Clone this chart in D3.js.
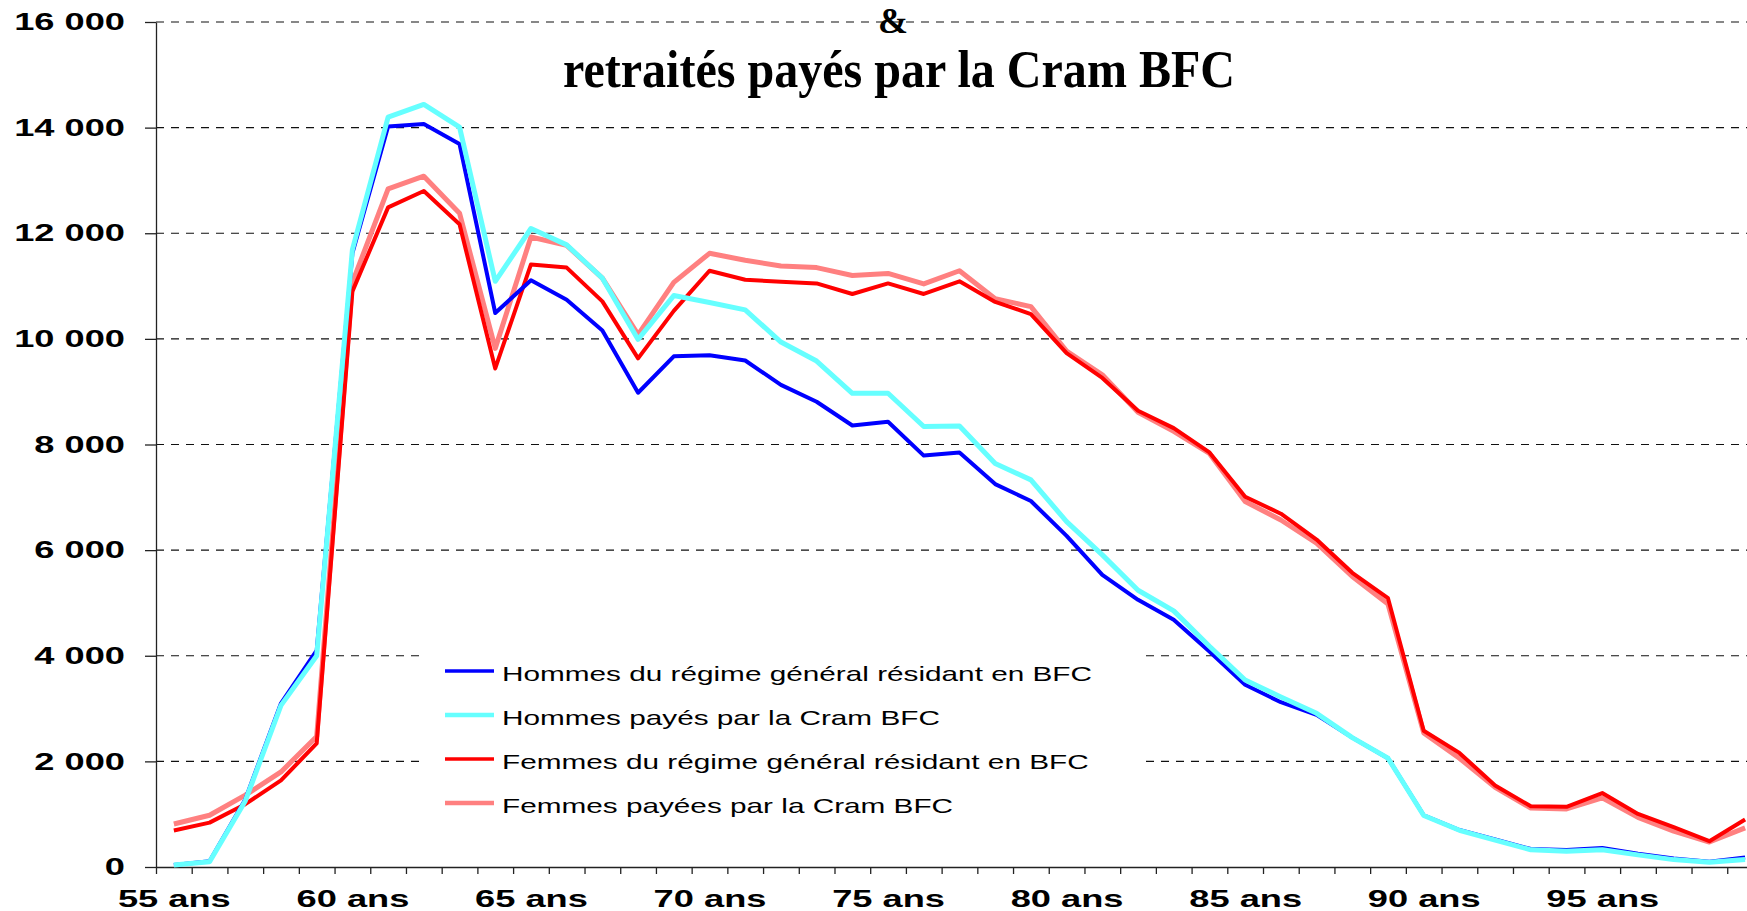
<!DOCTYPE html>
<html>
<head>
<meta charset="utf-8">
<script src="https://cdn.jsdelivr.net/npm/d3@7"></script>
<style>
  body { margin: 0; background: #fff; overflow: hidden; }
  svg { display: block; }
</style>
</head>
<body>
<div id="grafica"></div>
<script>
// 1. Datos: edades (categorias) y las cuatro series
ages = [55, 56, 57, 58, 59, 60, 61, 62, 63, 64,
        65, 66, 67, 68, 69, 70, 71, 72, 73, 74,
        75, 76, 77, 78, 79, 80, 81, 82, 83, 84,
        85, 86, 87, 88, 89, 90, 91, 92, 93, 94,
        95, 96, 97, 98, 99]

hommesRegime = [40, 110, 1280, 3100, 4100, 11620, 14020, 14070, 13690, 10490,
                11110, 10740, 10160, 8980, 9670, 9690, 9590, 9130, 8810, 8360,
                8430, 7790, 7850, 7250, 6930, 6270, 5530, 5060, 4680, 4080,
                3450, 3120, 2880, 2450, 2060, 980, 700, 520, 340, 320,
                360, 250, 160, 100, 180]

hommesCram = [40, 100, 1250, 3060, 4000, 11690, 14200, 14440, 14010, 11090,
              12090, 11780, 11150, 9990, 10820, 10690, 10550, 9940, 9580, 8970,
              8970, 8340, 8350, 7640, 7330, 6540, 5910, 5240, 4850, 4180,
              3540, 3220, 2910, 2450, 2060, 975, 695, 510, 325, 300,
              325, 230, 140, 90, 140]

femmesRegime = [690, 840, 1190, 1640, 2340, 10900, 12490, 12800, 12170, 9440,
                11410, 11350, 10710, 9630, 10530, 11290, 11120, 11080, 11050, 10850,
                11050, 10850, 11090, 10700, 10470, 9730, 9260, 8640, 8310, 7850,
                7010, 6690, 6200, 5570, 5090, 2580, 2160, 1545, 1150, 1140,
                1400, 1005, 755, 488, 900]

femmesCram = [815, 980, 1360, 1800, 2470, 11070, 12840, 13080, 12380, 9820,
              11930, 11770, 11150, 10080, 11070, 11620, 11490, 11380, 11350, 11200,
              11240, 11040, 11290, 10760, 10610, 9770, 9320, 8610, 8250, 7830,
              6920, 6570, 6130, 5500, 4980, 2540, 2060, 1510, 1115, 1100,
              1310, 940, 680, 473, 740]

noms = ['Hommes du régime général résidant en BFC',
        'Hommes payés par la Cram BFC',
        'Femmes du régime général résidant en BFC',
        'Femmes payées par la Cram BFC']

yTicks = [0, 2000, 4000, 6000, 8000, 10000, 12000, 14000, 16000]
xLabels = [55, 60, 65, 70, 75, 80, 85, 90, 95]

couleurs = ['#0000ff', '#66ffff', '#ff0000', '#ff8080']
epaisseurs = [4, 5, 4, 5]

ancho_total = 1747
alto_total = 911
margin = { left: 156, top: 22 }
paso = 35.71                 // ancho de cada categoria
fondo = 867                  // linea del cero

svg = d3.select('#grafica')
        .append('svg')
        .attr('width', ancho_total)
        .attr('height', alto_total)

sansFont = 'Liberation Sans, Arial, sans-serif'
serifFont = 'Liberation Serif, Times New Roman, serif'

// estira un texto horizontalmente (el original esta deformado)
function estirar(sel, factor) {
  sel.each(function () {
    w = this.getComputedTextLength()
    d3.select(this)
      .attr('textLength', w * factor)
      .attr('lengthAdjust', 'spacingAndGlyphs')
  })
}

// 2. Escaladores
x = d3.scaleLinear()
      .domain([ages[0] - 0.5, ages[ages.length - 1] + 0.5])
      .range([margin.left, margin.left + ages.length * paso])

y = d3.scaleLinear()
      .domain([0, 16000])
      .range([fondo, margin.top])

// 3. Lineas de la rejilla
svg.append('g')
   .selectAll('line')
   .data(yTicks.filter((d) => d > 0))
   .enter()
   .append('line')
   .attr('x1', margin.left)
   .attr('x2', x.range()[1])
   .attr('y1', (d) => y(d))
   .attr('y2', (d) => y(d))
   .attr('stroke', '#111')
   .attr('stroke-width', 1.2)
   .attr('stroke-dasharray', '8,7')

// 4. Ejes
fr = d3.formatLocale({ decimal: ',', thousands: ' ', grouping: [3], currency: ['', ' €'] })

yGroup = svg.append('g')
            .attr('transform', `translate(${margin.left},0)`)
            .call(d3.axisLeft(y)
                    .tickValues(yTicks)
                    .tickFormat(fr.format(','))
                    .tickSize(11)
                    .tickSizeOuter(0)
                    .tickPadding(20))
yGroup.selectAll('path, line').attr('stroke', '#222').attr('stroke-width', 1.3)
yGroup.selectAll('text')
      .attr('font-family', sansFont)
      .attr('font-weight', 'bold')
      .attr('font-size', '24px')
      .attr('fill', '#000')
      .call(estirar, 1.51)

// marcas entre categorias
bordes = ages.map((a) => a - 0.5).concat([ages[ages.length - 1] + 0.5])
xTickGroup = svg.append('g')
                .attr('transform', `translate(0,${fondo})`)
                .call(d3.axisBottom(x)
                        .tickValues(bordes)
                        .tickFormat('')
                        .tickSize(7)
                        .tickSizeOuter(0))
xTickGroup.selectAll('path, line').attr('stroke', '#222').attr('stroke-width', 1.3)

xLabelGroup = svg.append('g')
                 .attr('transform', `translate(0,${fondo})`)
                 .call(d3.axisBottom(x)
                         .tickValues(xLabels)
                         .tickFormat((d) => d + ' ans')
                         .tickSize(0)
                         .tickPadding(23))
xLabelGroup.select('.domain').remove()
xLabelGroup.selectAll('text')
           .attr('font-family', sansFont)
           .attr('font-weight', 'bold')
           .attr('font-size', '24px')
           .attr('fill', '#000')
           .call(estirar, 1.51)

// 5. Las curvas
series = [hommesRegime, hommesCram, femmesRegime, femmesCram]
linea = d3.line()
          .x((d, i) => x(ages[i]))
          .y((d) => y(d))

ordre = [3, 2, 0, 1]   // rosa y rojo debajo, azules encima
svg.append('g')
   .selectAll('path')
   .data(ordre)
   .enter()
   .append('path')
   .attr('d', (k) => linea(series[k]))
   .attr('fill', 'none')
   .attr('stroke', (k) => couleurs[k])
   .attr('stroke-width', (k) => epaisseurs[k])
   .attr('stroke-linejoin', 'round')

// 6. Leyenda
leyenda = svg.append('g')
leyenda.append('rect')
       .attr('x', 421)
       .attr('y', 636)
       .attr('width', 721)
       .attr('height', 200)
       .attr('fill', '#fff')

items = leyenda.selectAll('g.item')
               .data(noms)
               .enter()
               .append('g')
               .attr('class', 'item')
               .attr('transform', (d, i) => `translate(445,${671 + i * 44})`)
items.append('line')
     .attr('x1', 0)
     .attr('x2', 49)
     .attr('stroke', (d, i) => couleurs[i])
     .attr('stroke-width', (d, i) => epaisseurs[i] - 0.5)
items.append('text')
     .attr('x', 57)
     .attr('y', 10)
     .attr('font-family', sansFont)
     .attr('font-size', '21px')
     .attr('fill', '#000')
     .text((d) => d)

w0 = items.select('text').node().getComputedTextLength()
items.selectAll('text').call(estirar, 590 / w0)

// 7. Titulo (la primera linea queda fuera de la imagen)
svg.append('text')
   .attr('x', 893)
   .attr('y', 33)
   .attr('text-anchor', 'middle')
   .attr('font-family', serifFont)
   .attr('font-weight', 'bold')
   .attr('font-size', '36px')
   .text('&')

titulo = svg.append('text')
            .attr('x', 899)
            .attr('y', 87)
            .attr('text-anchor', 'middle')
            .attr('font-family', serifFont)
            .attr('font-weight', 'bold')
            .attr('font-size', '53px')
            .text('retraités payés par la Cram BFC')
titulo.attr('textLength', 672).attr('lengthAdjust', 'spacingAndGlyphs')
</script>
</body>
</html>
